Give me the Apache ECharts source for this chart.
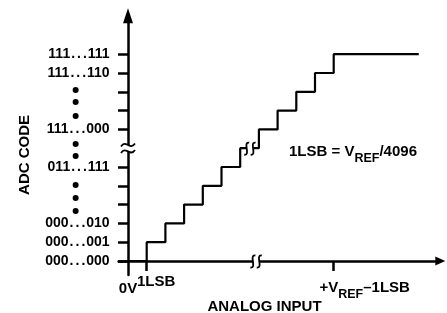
<!DOCTYPE html>
<html>
<head>
<meta charset="utf-8">
<script src="https://cdn.jsdelivr.net/npm/echarts@6/dist/echarts.min.js"></script>
<style>
  html, body { margin: 0; padding: 0; background: #fff; }
  #chart { width: 447px; height: 313px; }
</style>
</head>
<body>
<div id="chart"></div>
<script>
// transfer function: analog input (in LSB) -> output code level
var stepInput = [0, 1, 2, 3, 4, 5, 6, 7, 8, 9, 10, 11, 15.55];
var stepCode = [0, 1, 2, 3, 4, 5, 6, 7, 8, 9, 10, 11, 11];

// y axis (code levels, level 6 is the break)
var codeTicks = [0, 1, 2, 3, 4, 5, 7, 8, 9, 10, 11];
var codeLabelLevels = [0, 1, 2, 5, 7, 10, 11];
var codeLabels = ['000...000', '000...001', '000...010', '011...111', '111...000', '111...110', '111...111'];
var dotLevels = [2.66, 3.35, 4.04, 5.59, 6.22, 7.71, 8.46, 9.1];

// x axis
var inputTicks = [1, 11];
var inputLabelValues = [1, 11];
var originLabelValues = [0];

// break marks [x, y, kind]: 'v' = vertical S pair, 'h' = horizontal wave pair
var breaks = [[0, 6, 'h'], [6.85, 0, 'v'], [6.52, 6, 'v']];

var FONT = '"Liberation Sans", Arial, Helvetica, sans-serif';
var BLACK = '#000';

var stairData = stepInput.map(function (x, i) { return [x, stepCode[i]]; });
var codeMap = {};
codeLabelLevels.forEach(function (v, i) { codeMap[v] = codeLabels[i]; });

function sPath(cx, cy) {
  return 'M' + (cx + 2.5) + ',' + (cy - 6) + ' C' + (cx - 4.5) + ',' + (cy - 7) + ' ' +
    (cx + 4.5) + ',' + (cy + 7) + ' ' + (cx - 2.5) + ',' + (cy + 6);
}
function wavePath(cx, cy) {
  return 'M' + (cx - 7) + ',' + (cy + 1.5) + ' C' + (cx - 2) + ',' + (cy - 6) + ' ' +
    (cx + 2) + ',' + (cy + 6) + ' ' + (cx + 7) + ',' + (cy - 1.5);
}

function renderBreak(params, api) {
  var p = api.coord([api.value(0), api.value(1)]);
  var kind = breaks[params.dataIndex][2];
  var cx = p[0], cy = p[1];
  var children = [];
  var strokes;
  if (kind === 'v') {
    children.push({ type: 'rect', shape: { x: cx - 3.2, y: cy - 2.5, width: 6.4, height: 5 }, style: { fill: '#fff' } });
    strokes = [sPath(cx - 3.2, cy + 0.5), sPath(cx + 3.2, cy + 0.5)];
  } else {
    children.push({ type: 'rect', shape: { x: cx - 2.5, y: cy - 3.2, width: 5, height: 6.4 }, style: { fill: '#fff' } });
    strokes = [wavePath(cx, cy - 3.2), wavePath(cx, cy + 3.2)];
  }
  strokes.forEach(function (d) {
    children.push({ type: 'path', shape: { pathData: d }, style: { fill: 'none', stroke: BLACK, lineWidth: 1.8 } });
  });
  return { type: 'group', children: children };
}

// code labels: dots of "..." are set wider, like the original lettering
function codeText(s) {
  return s.split('...').map(function (part) { return '{c|' + part + '}'; })
    .join('{d|.}{d|.}{d|.}');
}

var bold15 = { fontFamily: FONT, fontWeight: 'bold', fontSize: 15, color: BLACK };

var chart = echarts.init(document.getElementById('chart'));

chart.setOption({
  animation: false,
  textStyle: { fontFamily: FONT },
  grid: { left: 118.65, right: 6.71, top: 15.66, bottom: 37.9, containLabel: false, outerBoundsMode: 'none' },
  graphic: [{
    type: 'text',
    left: 289,
    top: 144,
    style: {
      text: '{m|1LSB = V}{s|REF}{m|/4096}',
      rich: {
        m: { fontFamily: FONT, fontWeight: 'bold', fontSize: 15, lineHeight: 27, fill: BLACK },
        s: { fontFamily: FONT, fontWeight: 'bold', fontSize: 12.5, lineHeight: 20, verticalAlign: 'bottom', fill: BLACK }
      }
    }
  }],
  xAxis: [{
    type: 'value',
    min: -0.5,
    max: 16.7,
    splitLine: { show: false },
    axisLine: {
      onZero: true,
      symbol: ['none', 'triangle'],
      symbolSize: [9, 10],
      lineStyle: { color: BLACK, width: 2.5 }
    },
    axisTick: { customValues: inputTicks, length: 10, lineStyle: { color: BLACK, width: 2.5 } },
    axisLabel: {
      customValues: inputLabelValues,
      margin: -1,
      hideOverlap: false,
      formatter: function (v) {
        if (v === 1) return '{lsb|1LSB}';
        return '{sp|}{vr|+V}{sub|REF}{vr|\u20131LSB}';
      },
      rich: {
        lsb: Object.assign({ lineHeight: 15, padding: [0, 0, 0, 19] }, bold15),
        sp: { width: 62, height: 1 },
        vr: Object.assign({ lineHeight: 27 }, bold15),
        sub: Object.assign({}, bold15, { fontSize: 12.5, lineHeight: 21, verticalAlign: 'bottom' })
      }
    },
    name: 'ANALOG INPUT',
    nameLocation: 'middle',
    nameGap: 24,
    nameMoveOverlap: false,
    nameTextStyle: Object.assign({ padding: [0, 30, 0, 0] }, bold15)
  }, {
    // origin label "0V" sits below the other labels
    type: 'value',
    min: -0.5,
    max: 16.7,
    position: 'bottom',
    splitLine: { show: false },
    axisLine: { show: false, onZero: false },
    axisTick: { show: false },
    axisLabel: {
      customValues: originLabelValues,
      margin: 6,
      hideOverlap: false,
      showMinLabel: true,
      formatter: function () { return '0V'; },
      fontFamily: FONT, fontWeight: 'bold', fontSize: 15, lineHeight: 15, color: BLACK
    }
  }],
  yAxis: {
    type: 'value',
    min: -0.75,
    max: 13.05,
    splitLine: { show: false },
    axisLine: {
      onZero: true,
      symbol: ['none', 'triangle'],
      symbolSize: [10, 15],
      lineStyle: { color: BLACK, width: 2.5 }
    },
    axisTick: { customValues: codeTicks, length: 10, lineStyle: { color: BLACK, width: 2.5 } },
    axisLabel: {
      customValues: codeLabelLevels.concat(dotLevels),
      margin: 9,
      hideOverlap: false,
      formatter: function (v) {
        if (codeMap[v] !== undefined) return codeText(codeMap[v]);
        return '{dot|}{gap|}';
      },
      rich: {
        c: Object.assign({}, bold15, { fontSize: 14, lineHeight: 15 }),
        d: Object.assign({}, bold15, { fontSize: 14, lineHeight: 15, padding: [0, 1, 0, 1] }),
        dot: { width: 6, height: 6, backgroundColor: BLACK, borderRadius: 3 },
        gap: { width: 31, height: 6 }
      }
    },
    name: 'ADC CODE',
    nameLocation: 'middle',
    nameGap: 86,
    nameRotate: 90,
    nameMoveOverlap: false,
    nameTextStyle: Object.assign({ padding: [0, 19, 0, 0] }, bold15)
  },
  series: [{
    type: 'line',
    data: stairData,
    step: 'end',
    symbol: 'none',
    z: 3,
    lineStyle: { color: BLACK, width: 2.2 }
  }, {
    type: 'custom',
    z: 10,
    silent: true,
    data: breaks.map(function (b) { return [b[0], b[1]]; }),
    renderItem: renderBreak
  }]
});
</script>
</body>
</html>
